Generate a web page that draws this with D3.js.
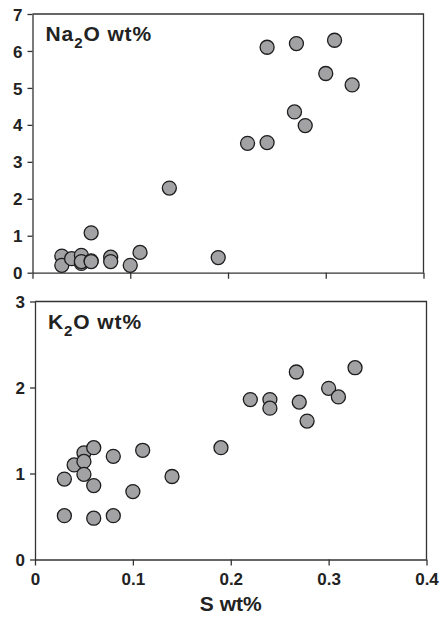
<!DOCTYPE html>
<html>
<head>
<meta charset="utf-8">
<script src="https://cdn.jsdelivr.net/npm/d3@7"></script>
<style>
  body { margin: 0; background: #fff; }
  svg { display: block; font-family: "Liberation Sans", Arial, sans-serif; }
  .axis text { font-weight: bold; font-size: 17px; fill: #222; }
  .axis path, .axis line { stroke: #333; stroke-width: 1.3; }
</style>
</head>
<body>
<div id="chart"></div>
<script>
const width = 441;
const height = 617;

// S wt% for each sample (top panel)
const sTop = [0.03, 0.03, 0.04, 0.05, 0.05, 0.05, 0.06, 0.06, 0.06, 0.08, 0.08, 0.10,
  0.11, 0.14, 0.19, 0.22, 0.24, 0.24, 0.27, 0.268, 0.279, 0.30, 0.309, 0.327];
const na2o = [0.45, 0.20, 0.38, 0.47, 0.25, 0.30, 1.08, 0.32, 0.30, 0.42, 0.30, 0.20,
  0.55, 2.29, 0.41, 3.50, 6.10, 3.52, 6.20, 4.35, 3.98, 5.39, 6.29, 5.08];

// S wt% for each sample (bottom panel)
const sBottom = [0.03, 0.03, 0.04, 0.05, 0.05, 0.05, 0.06, 0.06, 0.06, 0.08, 0.08, 0.10,
  0.11, 0.14, 0.19, 0.22, 0.24, 0.24, 0.267, 0.27, 0.278, 0.30, 0.31, 0.327];
const k2o = [0.935, 0.51, 1.10, 1.24, 1.14, 0.99, 1.30, 0.86, 0.48, 1.20, 0.51, 0.79,
  1.27, 0.965, 1.30, 1.86, 1.86, 1.76, 2.18, 1.83, 1.61, 1.99, 1.89, 2.23];

const xTicks = [0, 0.1, 0.2, 0.3, 0.4];
const naTicks = [0, 1, 2, 3, 4, 5, 6, 7];
const kTicks = [0, 1, 2, 3];

const svg = d3.select("#chart")
  .append("svg")
  .attr("width", width)
  .attr("height", height);

function panel(opts) {
  const x = d3.scaleLinear().domain([0, 0.4]).range([opts.left, opts.right]);
  const y = d3.scaleLinear().domain([0, opts.ymax]).range([opts.bottom, opts.top]);
  const g = svg.append("g");

  // frame top and right
  g.append("path")
    .attr("d", `M${opts.left},${opts.top}H${opts.right}V${opts.bottom}`)
    .attr("fill", "none")
    .attr("stroke", "#333")
    .attr("stroke-width", 1.3);

  const xa = g.append("g")
    .attr("class", "axis")
    .attr("transform", `translate(0,${opts.bottom})`)
    .call(d3.axisBottom(x).tickValues(xTicks).tickSize(6).tickSizeOuter(0)
      .tickFormat(opts.xLabels ? d3.format("") : () => ""));
  xa.selectAll("text").attr("y", 25.5).attr("dy", 0);

  g.append("g")
    .attr("class", "axis")
    .attr("transform", `translate(${opts.left},0)`)
    .call(d3.axisLeft(y).tickValues(opts.yTicks).tickSize(5).tickSizeOuter(0)
      .tickPadding(5).tickFormat(d3.format("d")))
    .selectAll("text").attr("dy", "0.36em");

  g.append("g")
    .selectAll("circle")
    .data(opts.xs.map((d, i) => [d, opts.ys[i]]))
    .join("circle")
    .attr("cx", d => x(d[0]))
    .attr("cy", d => y(d[1]))
    .attr("r", 7)
    .attr("fill", "#a2a2a5")
    .attr("stroke", "#1c1c1c")
    .attr("stroke-width", 1.3);

  const t = g.append("text")
    .attr("x", opts.left + 13)
    .attr("y", opts.top + 27)
    .attr("font-size", 21)
    .attr("letter-spacing", 0.9)
    .attr("font-weight", "bold")
    .attr("fill", "#222");
  t.append("tspan").text(opts.label[0]);
  t.append("tspan").text("2").attr("font-size", 15).attr("dy", 7);
  t.append("tspan").text(opts.label[1]).attr("dy", -7);
  return x;
}

panel({left: 32.5, right: 423.5, top: 14, bottom: 272.7, ymax: 7,
  yTicks: naTicks, xs: sTop, ys: na2o, label: ["Na", "O wt%"], xLabels: false});

const xb = panel({left: 35, right: 426.5, top: 301.5, bottom: 559.5, ymax: 3,
  yTicks: kTicks, xs: sBottom, ys: k2o, label: ["K", "O wt%"], xLabels: true});

svg.append("text")
  .attr("x", xb(0.2))
  .attr("y", 611)
  .attr("text-anchor", "middle")
  .attr("font-size", 21)
  .attr("font-weight", "bold")
  .attr("fill", "#222")
  .text("S wt%");
</script>
</body>
</html>
